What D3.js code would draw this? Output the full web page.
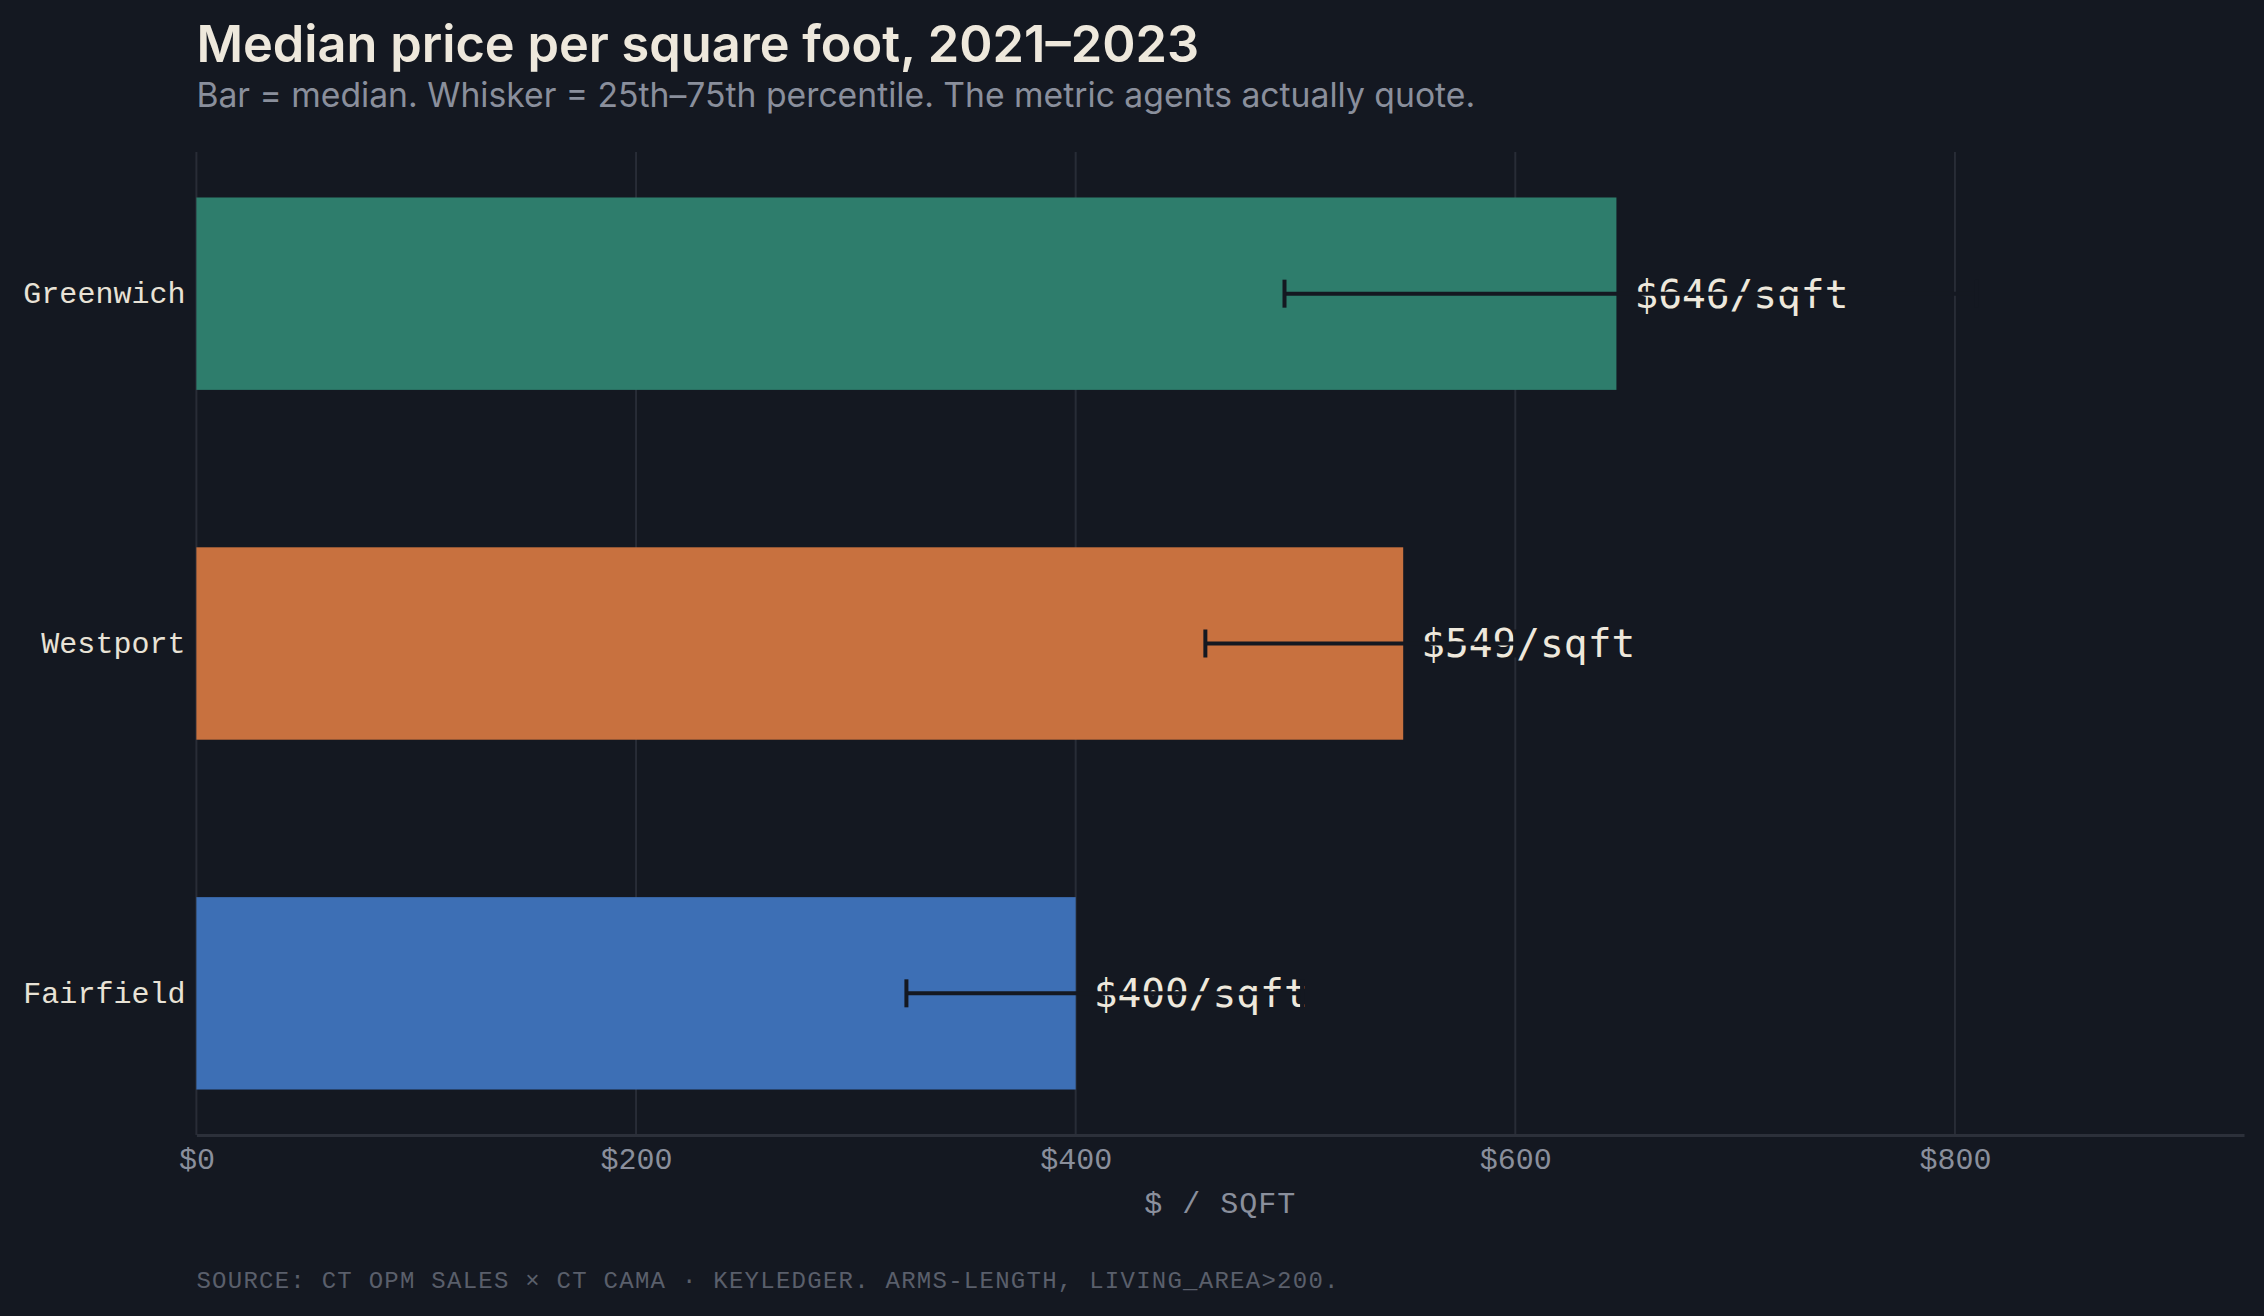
<!DOCTYPE html>
<html>
<head>
<meta charset="utf-8">
<script src="https://cdn.jsdelivr.net/npm/d3@7"></script>
<style>
  html, body { margin: 0; padding: 0; background: #141821; }
  svg { display: block; }
</style>
</head>
<body>
<svg id="chart" width="2264" height="1316"></svg>
<script>
const categories = ["Greenwich", "Westport", "Fairfield"];
const medians = [646, 549, 400];
const p25 = [495, 459, 323];
const p75 = [810, 600, 503];
const barColors = ["#2e7d6c", "#c8713f", "#3d6fb5"];
const tickValues = [0, 200, 400, 600, 800];
const tickLabels = ["$0", "$200", "$400", "$600", "$800"];

const titleText = "Median price per square foot, 2021–2023";
const subtitleText = "Bar = median. Whisker = 25th–75th percentile. The metric agents actually quote.";
const axisTitle = "$ / SQFT";
const footerText = "SOURCE: CT OPM SALES × CT CAMA · KEYLEDGER. ARMS-LENGTH, LIVING_AREA>200.";

const W = 2264, H = 1316;
const m = { left: 196.4, right: 20, top: 152, bottom: 181 };
const svg = d3.select("#chart");
svg.append("rect").attr("width", W).attr("height", H).attr("fill", "#141821");

const x = d3.scaleLinear()
  .domain([0, d3.max(p75) * 1.15])
  .range([m.left, W - m.right]);
const y = d3.scaleBand()
  .domain(categories)
  .range([m.top, H - m.bottom])
  .paddingInner(0.45)
  .paddingOuter(0.13);

const mono = "'Liberation Mono', 'DejaVu Sans Mono', monospace";
const sans = "Inter, 'Noto Sans', sans-serif";

// title & subtitle
svg.append("text").attr("x", m.left).attr("y", 62)
  .attr("font-family", sans).attr("font-weight", 600).attr("font-size", 50.5)
  .attr("fill", "#eee8dc").text(titleText);
svg.append("text").attr("x", m.left).attr("y", 107)
  .attr("font-family", sans).attr("font-weight", 400).attr("font-size", 33.7)
  .attr("fill", "#8a8f9c").text(subtitleText);

// grid
const grid = svg.append("g");
grid.selectAll("line").data(tickValues).join("line")
  .attr("x1", d => x(d)).attr("x2", d => x(d))
  .attr("y1", m.top).attr("y2", H - m.bottom)
  .attr("stroke", "#282c36").attr("stroke-width", 2);

// x axis
const xAxis = d3.axisBottom(x).tickValues(tickValues)
  .tickFormat((d, i) => tickLabels[i]).tickSize(0).tickPadding(13);
const gx = svg.append("g").attr("transform", `translate(0,${H - m.bottom})`).call(xAxis);
gx.select(".domain").attr("stroke", "#2c303a").attr("stroke-width", 3);
gx.selectAll("text").attr("font-family", mono).attr("font-size", 30)
  .attr("fill", "#8a8f9c");

// y axis labels
const yAxis = d3.axisLeft(y).tickSize(0).tickPadding(11);
const gy = svg.append("g").attr("transform", `translate(${m.left},0)`).call(yAxis);
gy.select(".domain").remove();
gy.selectAll("text").attr("font-family", mono).attr("font-size", 30)
  .attr("fill", "#e8e2d6");

// bars
const rows = categories.map((c, i) => ({ c, med: medians[i], lo: p25[i], hi: p75[i], col: barColors[i] }));
svg.append("g").selectAll("rect").data(rows).join("rect")
  .attr("x", x(0)).attr("y", d => y(d.c))
  .attr("width", d => x(d.med) - x(0)).attr("height", y.bandwidth())
  .attr("fill", d => d.col);

// value labels
svg.append("g").selectAll("text").data(rows).join("text")
  .attr("x", d => x(d.med) + 18).attr("y", d => y(d.c) + y.bandwidth() / 2)
  .attr("dy", "0.35em")
  .attr("font-family", "'DejaVu Sans Mono', monospace").attr("font-size", 39.5)
  .attr("fill", "#eee8dc").text(d => `$${d.med}/sqft`);

// whiskers
const wg = svg.append("g").attr("stroke", "#141821").attr("stroke-width", 4);
wg.selectAll("line.w").data(rows).join("line").attr("class", "w")
  .attr("x1", d => x(d.lo)).attr("x2", d => x(d.hi))
  .attr("y1", d => y(d.c) + y.bandwidth() / 2).attr("y2", d => y(d.c) + y.bandwidth() / 2);
wg.selectAll("line.lo").data(rows).join("line").attr("class", "lo")
  .attr("x1", d => x(d.lo)).attr("x2", d => x(d.lo))
  .attr("y1", d => y(d.c) + y.bandwidth() / 2 - 14).attr("y2", d => y(d.c) + y.bandwidth() / 2 + 14);
wg.selectAll("line.hi").data(rows).join("line").attr("class", "hi")
  .attr("x1", d => x(d.hi)).attr("x2", d => x(d.hi))
  .attr("y1", d => y(d.c) + y.bandwidth() / 2 - 14).attr("y2", d => y(d.c) + y.bandwidth() / 2 + 14);

// axis title
svg.append("text").attr("x", (x.range()[0] + x.range()[1]) / 2).attr("y", 1213)
  .attr("text-anchor", "middle").attr("font-family", mono).attr("font-size", 30)
  .attr("letter-spacing", 1).attr("fill", "#8a8f9c").text(axisTitle);

// footer
svg.append("text").attr("x", m.left).attr("y", 1288)
  .attr("font-family", mono).attr("font-size", 24).attr("letter-spacing", 1.26)
  .attr("fill", "#5a5f6b").text(footerText);
</script>
</body>
</html>
